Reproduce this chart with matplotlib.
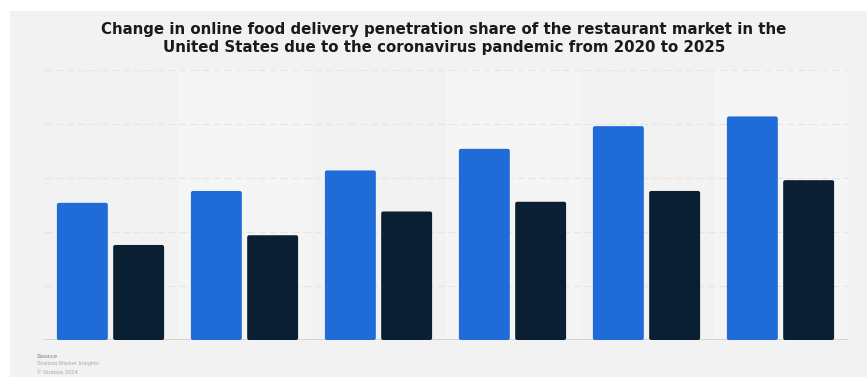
import matplotlib
matplotlib.use("Agg")
import matplotlib.pyplot as plt
from matplotlib.patches import Rectangle, FancyBboxPatch
import numpy as np

years = ["2020", "2021", "2022", "2023", "2024", "2025"]
series_a = [12.7, 13.8, 15.7, 17.7, 19.8, 20.7]   # blue
series_b = [8.8, 9.7, 11.9, 12.8, 13.8, 14.8]     # dark navy
yticks = [0, 5, 10, 15, 20, 25]

title = ("Change in online food delivery penetration share of the restaurant market in the\n"
         "United States due to the coronavirus pandemic from 2020 to 2025")

W, H = 867, 377
fig = plt.figure(figsize=(W / 100, H / 100), dpi=100)
fig.patch.set_facecolor("white")
# gray frame
fig.patches.append(Rectangle((10 / W, 0), 1, (H - 11) / H, transform=fig.transFigure,
                             facecolor="#f2f2f2", edgecolor="none", zorder=-10))

ax = fig.add_axes([43.5 / W, (H - 340) / H, 804 / W, 270 / H])
ax.set_facecolor("#f2f2f2")
x = np.arange(len(years))
ax.set_xlim(-0.5, len(years) - 0.5)
ax.set_ylim(0, 25)

for i in x:
    if i % 2 == 1:
        ax.axvspan(i - 0.5, i + 0.5, color="#f5f5f5", zorder=0, lw=0)

for t in yticks[1:]:
    ax.axhline(t, color="#e6e6e6", lw=0.9, ls=(0, (6, 3)), zorder=1)
ax.axhline(0, color="#cfcfcf", lw=1.2, zorder=1)

w = 0.38
off = 0.21
for xi, v in zip(x, series_a):
    ax.add_patch(FancyBboxPatch((xi - off - w / 2, 0), w, v,
                                boxstyle="round,pad=0,rounding_size=0.015",
                                mutation_aspect=25 / 270 * 134,
                                facecolor="#1f6bd8", edgecolor="none", zorder=3))
for xi, v in zip(x, series_b):
    ax.add_patch(FancyBboxPatch((xi + off - w / 2, 0), w, v,
                                boxstyle="round,pad=0,rounding_size=0.015",
                                mutation_aspect=25 / 270 * 134,
                                facecolor="#0b1f33", edgecolor="none", zorder=3))

ax.set_xticks([])
ax.set_yticks([])
for s in ax.spines.values():
    s.set_visible(False)

fig.text(444 / W, 1 - 38.5 / H, title, ha="center", va="center", fontsize=10.85,
         fontweight="bold", family="DejaVu Sans", color="#1a1a1a", linespacing=1.2)

fig.text(37 / W, 1 - 356 / H, "Source", fontsize=4.5, fontweight="bold", color="#999999",
         va="center", family="Liberation Sans")
fig.text(37 / W, 1 - 364 / H, "Statista Market Insights", fontsize=4.2, color="#aaaaaa",
         va="center", family="Liberation Sans")
fig.text(37 / W, 1 - 372 / H, "\u00a9 Statista 2024", fontsize=4.2, color="#aaaaaa",
         va="center", family="Liberation Sans")

fig.savefig("out.png", dpi=100)
